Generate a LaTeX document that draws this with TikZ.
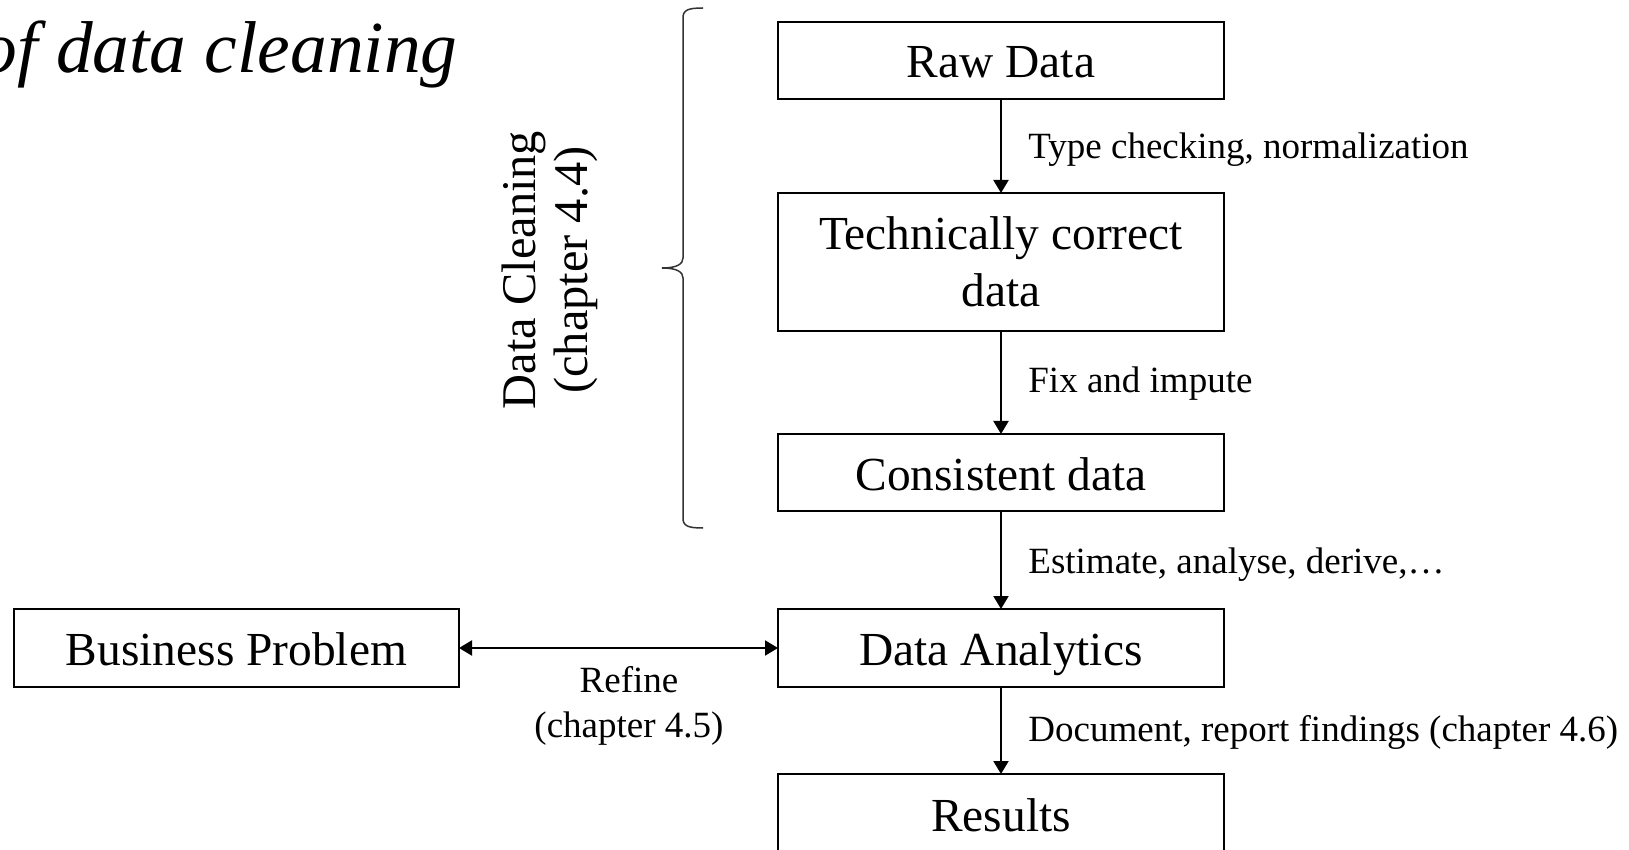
\documentclass[tikz,border=0pt]{standalone}
\usepackage{fontspec}
\setmainfont{Liberation Serif}
\usetikzlibrary{arrows.meta}
\begin{document}
\begin{tikzpicture}[x=0.5pt,y=-0.5pt,
  box/.style={draw,line width=1pt,minimum width=223pt,inner sep=0pt,outer sep=0pt,
    font=\fontsize{23.7}{28.5}\selectfont},
  oneline/.style={minimum height=38.5pt,text height=17.5pt,text depth=0pt},
  arr/.style={line width=1pt,-{Triangle[length=6.5pt,width=7.5pt]}},
  dblarr/.style={line width=1pt,{Triangle[length=6.5pt,width=7.5pt]}-{Triangle[length=6.5pt,width=7.5pt]}},
  lbl/.style={font=\fontsize{18.5}{22.5}\selectfont,inner sep=0pt,anchor=base west},
  brace/.style={line width=0.75pt,black!80}]
\useasboundingbox (0,0) rectangle (1629,850);

% heading (its beginning runs off the left edge)
\node[anchor=base east,inner sep=0pt,font=\fontsize{36.7}{44}\selectfont\itshape] (title) at (458,73) {of data cleaning};

% main pipeline
\node[box,oneline] (raw) at (1001,60.5) {Raw Data};
\node[box,minimum height=69pt,align=center] (tech) at (1001,262) {Technically correct\\data};
\node[box,oneline] (cons) at (1001,472.5) {Consistent data};
\node[box,oneline,minimum height=39pt] (ana) at (1001,648) {Data Analytics};
\node[box,oneline,minimum height=39.5pt] (res) at (1001,813.5) {Results};
\node[box,oneline,minimum height=39pt,minimum width=222.5pt] (bp) at (236.5,648) {Business Problem};

\draw[arr] (raw.south) -- (tech.north);
\draw[arr] (tech.south) -- (cons.north);
\draw[arr] (cons.south) -- (ana.north);
\draw[arr] (ana.south) -- (res.north);
\draw[dblarr] (bp.east) -- (ana.west);

% step labels
\node[lbl] (l1) at (1028,159) {Type checking, normalization};
\node[lbl] (l2) at (1028,393) {Fix and impute};
\node[lbl] (l3) at (1028,573) {Estimate, analyse, derive,…};
\node[lbl] (l4) at (1028,741) {Document, report findings (chapter 4.6)};
\node[font=\fontsize{18.5}{22.5}\selectfont,align=center,inner sep=0pt] (refine) at (629,706) {Refine\\(chapter 4.5)};

% cleaning stage brace and its caption
\draw[brace] (703,8) .. controls (688,8) and (683,10) .. (683,18) -- (683,258)
  .. controls (683,264) and (677,268) .. (662,268)
  .. controls (677,268) and (683,272) .. (683,278) -- (683,518)
  .. controls (683,526) and (688,528) .. (703,528);
\node[font=\fontsize{24.2}{26}\selectfont,align=center,rotate=90,inner sep=0pt] (dc) at (550,270) {Data Cleaning\\(chapter 4.4)};
\end{tikzpicture}
\end{document}
